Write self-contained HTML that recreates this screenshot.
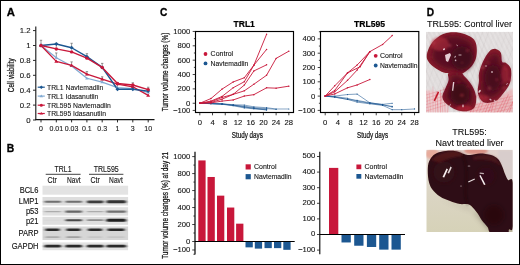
<!DOCTYPE html><html><head><meta charset="utf-8"><style>html,body{margin:0;padding:0;background:#fff;width:520px;height:265px;overflow:hidden}svg{display:block;will-change:transform;font-family:"Liberation Sans",sans-serif}</style></head><body>
<svg width="520" height="265" viewBox="0 0 520 265">
<defs><filter id="bl1" x="-20%" y="-20%" width="140%" height="140%"><feGaussianBlur stdDeviation="0.6"/></filter><filter id="bb" x="-30%" y="-100%" width="160%" height="300%"><feGaussianBlur stdDeviation="1.4 0.55"/></filter><filter id="bl2" x="-20%" y="-20%" width="140%" height="140%"><feGaussianBlur stdDeviation="1.2"/></filter><filter id="bl3" x="-30%" y="-30%" width="160%" height="160%"><feGaussianBlur stdDeviation="2.5"/></filter><clipPath id="ph1"><rect x="426" y="31.7" width="87" height="80.8"/></clipPath><clipPath id="ph2"><rect x="426.3" y="149.8" width="86.4" height="82.3"/></clipPath></defs>
<rect x="0" y="0" width="520" height="265" fill="#fff"/>
<text x="6.70" y="15.50" font-size="11.3" text-anchor="start" font-weight="bold" fill="#000" stroke="#000" stroke-width="0.3">A</text>
<line x1="35.80" y1="26.50" x2="35.80" y2="120.10" stroke="#141414" stroke-width="1.1" />
<line x1="33.00" y1="120.00" x2="35.80" y2="120.00" stroke="#141414" stroke-width="0.9" />
<text transform="translate(30.60,122.55) scale(1.1,1)" font-size="7.1" text-anchor="end" font-weight="normal" fill="#141414"  stroke="#141414" stroke-width="0.1">0</text>
<line x1="33.00" y1="105.10" x2="35.80" y2="105.10" stroke="#141414" stroke-width="0.9" />
<text transform="translate(30.60,107.65) scale(1.1,1)" font-size="7.1" text-anchor="end" font-weight="normal" fill="#141414"  stroke="#141414" stroke-width="0.1">0.2</text>
<line x1="33.00" y1="90.20" x2="35.80" y2="90.20" stroke="#141414" stroke-width="0.9" />
<text transform="translate(30.60,92.75) scale(1.1,1)" font-size="7.1" text-anchor="end" font-weight="normal" fill="#141414"  stroke="#141414" stroke-width="0.1">0.4</text>
<line x1="33.00" y1="75.30" x2="35.80" y2="75.30" stroke="#141414" stroke-width="0.9" />
<text transform="translate(30.60,77.85) scale(1.1,1)" font-size="7.1" text-anchor="end" font-weight="normal" fill="#141414"  stroke="#141414" stroke-width="0.1">0.6</text>
<line x1="33.00" y1="60.40" x2="35.80" y2="60.40" stroke="#141414" stroke-width="0.9" />
<text transform="translate(30.60,62.95) scale(1.1,1)" font-size="7.1" text-anchor="end" font-weight="normal" fill="#141414"  stroke="#141414" stroke-width="0.1">0.8</text>
<line x1="33.00" y1="45.50" x2="35.80" y2="45.50" stroke="#141414" stroke-width="0.9" />
<text transform="translate(30.60,48.05) scale(1.1,1)" font-size="7.1" text-anchor="end" font-weight="normal" fill="#141414"  stroke="#141414" stroke-width="0.1">1</text>
<line x1="33.00" y1="30.60" x2="35.80" y2="30.60" stroke="#141414" stroke-width="0.9" />
<text transform="translate(30.60,33.15) scale(1.1,1)" font-size="7.1" text-anchor="end" font-weight="normal" fill="#141414"  stroke="#141414" stroke-width="0.1">1.2</text>
<line x1="35.30" y1="119.60" x2="154.50" y2="119.60" stroke="#141414" stroke-width="1.1" />
<line x1="41.00" y1="119.60" x2="41.00" y2="122.40" stroke="#141414" stroke-width="0.9" />
<line x1="56.30" y1="119.60" x2="56.30" y2="122.40" stroke="#141414" stroke-width="0.9" />
<line x1="71.60" y1="119.60" x2="71.60" y2="122.40" stroke="#141414" stroke-width="0.9" />
<line x1="86.90" y1="119.60" x2="86.90" y2="122.40" stroke="#141414" stroke-width="0.9" />
<line x1="102.20" y1="119.60" x2="102.20" y2="122.40" stroke="#141414" stroke-width="0.9" />
<line x1="117.50" y1="119.60" x2="117.50" y2="122.40" stroke="#141414" stroke-width="0.9" />
<line x1="132.80" y1="119.60" x2="132.80" y2="122.40" stroke="#141414" stroke-width="0.9" />
<line x1="148.20" y1="119.60" x2="148.20" y2="122.40" stroke="#141414" stroke-width="0.9" />
<text x="41.00" y="131.20" font-size="7" text-anchor="middle" font-weight="normal" fill="#141414"  stroke="#141414" stroke-width="0.1">0</text>
<text x="56.30" y="131.20" font-size="7" text-anchor="middle" font-weight="normal" fill="#141414"  stroke="#141414" stroke-width="0.1">0.01</text>
<text x="71.60" y="131.20" font-size="7" text-anchor="middle" font-weight="normal" fill="#141414"  stroke="#141414" stroke-width="0.1">0.03</text>
<text x="86.90" y="131.20" font-size="7" text-anchor="middle" font-weight="normal" fill="#141414"  stroke="#141414" stroke-width="0.1">0.1</text>
<text x="102.20" y="131.20" font-size="7" text-anchor="middle" font-weight="normal" fill="#141414"  stroke="#141414" stroke-width="0.1">0.3</text>
<text x="117.50" y="131.20" font-size="7" text-anchor="middle" font-weight="normal" fill="#141414"  stroke="#141414" stroke-width="0.1">1</text>
<text x="132.80" y="131.20" font-size="7" text-anchor="middle" font-weight="normal" fill="#141414"  stroke="#141414" stroke-width="0.1">3</text>
<text x="148.20" y="131.20" font-size="7" text-anchor="middle" font-weight="normal" fill="#141414"  stroke="#141414" stroke-width="0.1">10</text>
<g transform="translate(14.40,75.20) rotate(-90) scale(0.715,1)"><text x="0" y="0" font-size="9" text-anchor="middle" fill="#141414" stroke="#141414" stroke-width="0.25">Cell viability</text></g>
<line x1="41.00" y1="40.28" x2="41.00" y2="44.28" stroke="#555" stroke-width="0.6" />
<line x1="39.80" y1="40.28" x2="42.20" y2="40.28" stroke="#555" stroke-width="0.6" />
<line x1="56.30" y1="43.27" x2="56.30" y2="47.27" stroke="#555" stroke-width="0.6" />
<line x1="55.10" y1="43.27" x2="57.50" y2="43.27" stroke="#555" stroke-width="0.6" />
<line x1="71.60" y1="43.27" x2="71.60" y2="47.27" stroke="#555" stroke-width="0.6" />
<line x1="70.40" y1="43.27" x2="72.80" y2="43.27" stroke="#555" stroke-width="0.6" />
<line x1="86.90" y1="53.69" x2="86.90" y2="57.69" stroke="#555" stroke-width="0.6" />
<line x1="85.70" y1="53.69" x2="88.10" y2="53.69" stroke="#555" stroke-width="0.6" />
<line x1="102.20" y1="63.38" x2="102.20" y2="67.38" stroke="#555" stroke-width="0.6" />
<line x1="101.00" y1="63.38" x2="103.40" y2="63.38" stroke="#555" stroke-width="0.6" />
<line x1="132.80" y1="82.75" x2="132.80" y2="86.75" stroke="#555" stroke-width="0.6" />
<line x1="131.60" y1="82.75" x2="134.00" y2="82.75" stroke="#555" stroke-width="0.6" />
<line x1="56.30" y1="52.95" x2="56.30" y2="56.95" stroke="#555" stroke-width="0.6" />
<line x1="55.10" y1="52.95" x2="57.50" y2="52.95" stroke="#555" stroke-width="0.6" />
<line x1="71.60" y1="61.89" x2="71.60" y2="65.89" stroke="#555" stroke-width="0.6" />
<line x1="70.40" y1="61.89" x2="72.80" y2="61.89" stroke="#555" stroke-width="0.6" />
<line x1="86.90" y1="71.57" x2="86.90" y2="75.57" stroke="#555" stroke-width="0.6" />
<line x1="85.70" y1="71.57" x2="88.10" y2="71.57" stroke="#555" stroke-width="0.6" />
<line x1="102.20" y1="76.79" x2="102.20" y2="80.79" stroke="#555" stroke-width="0.6" />
<line x1="101.00" y1="76.79" x2="103.40" y2="76.79" stroke="#555" stroke-width="0.6" />
<line x1="117.50" y1="82.75" x2="117.50" y2="86.75" stroke="#555" stroke-width="0.6" />
<line x1="116.30" y1="82.75" x2="118.70" y2="82.75" stroke="#555" stroke-width="0.6" />
<line x1="148.20" y1="87.22" x2="148.20" y2="91.22" stroke="#555" stroke-width="0.6" />
<line x1="147.00" y1="87.22" x2="149.40" y2="87.22" stroke="#555" stroke-width="0.6" />
<polyline points="41.00,45.50 56.30,57.72 71.60,65.99 86.90,78.28 102.20,82.08 117.50,87.67 132.80,88.71 148.20,92.44" fill="none" stroke="#80a9d2" stroke-width="1.2" stroke-linejoin="round" />
<polyline points="41.00,45.50 56.30,61.37 71.60,65.39 86.90,74.18 102.20,79.17 117.50,84.02 132.80,86.77 148.20,95.41" fill="none" stroke="#c8173a" stroke-width="1.3" stroke-linejoin="round" />
<polyline points="41.00,45.50 56.30,44.01 71.60,47.73 86.90,56.68 102.20,67.40 117.50,89.23 132.80,89.23 148.20,91.09" fill="none" stroke="#1c5791" stroke-width="1.4" stroke-linejoin="round" />
<polyline points="41.00,45.50 56.30,48.93 71.60,51.91 86.90,58.17 102.20,67.40 117.50,83.57 132.80,84.98 148.20,89.60" fill="none" stroke="#c8173a" stroke-width="1.4" stroke-linejoin="round" />
<polygon points="41.00,43.90 42.76,46.62 39.24,46.62" fill="#80a9d2"/>
<polygon points="56.30,56.12 58.06,58.84 54.54,58.84" fill="#80a9d2"/>
<polygon points="71.60,64.39 73.36,67.11 69.84,67.11" fill="#80a9d2"/>
<polygon points="86.90,76.68 88.66,79.40 85.14,79.40" fill="#80a9d2"/>
<polygon points="102.20,80.48 103.96,83.20 100.44,83.20" fill="#80a9d2"/>
<polygon points="117.50,86.07 119.26,88.79 115.74,88.79" fill="#80a9d2"/>
<polygon points="132.80,87.11 134.56,89.83 131.04,89.83" fill="#80a9d2"/>
<polygon points="148.20,90.84 149.96,93.56 146.44,93.56" fill="#80a9d2"/>
<polygon points="41.00,43.70 42.98,46.76 39.02,46.76" fill="#c8173a"/>
<polygon points="56.30,59.57 58.28,62.63 54.32,62.63" fill="#c8173a"/>
<polygon points="71.60,63.59 73.58,66.65 69.62,66.65" fill="#c8173a"/>
<polygon points="86.90,72.38 88.88,75.44 84.92,75.44" fill="#c8173a"/>
<polygon points="102.20,77.37 104.18,80.43 100.22,80.43" fill="#c8173a"/>
<polygon points="117.50,82.22 119.48,85.28 115.52,85.28" fill="#c8173a"/>
<polygon points="132.80,84.97 134.78,88.03 130.82,88.03" fill="#c8173a"/>
<polygon points="148.20,93.61 150.18,96.67 146.22,96.67" fill="#c8173a"/>
<polygon points="41.00,43.50 43.00,45.50 41.00,47.50 39.00,45.50" fill="#1c5791"/>
<polygon points="56.30,42.01 58.30,44.01 56.30,46.01 54.30,44.01" fill="#1c5791"/>
<polygon points="71.60,45.73 73.60,47.73 71.60,49.73 69.60,47.73" fill="#1c5791"/>
<polygon points="86.90,54.68 88.90,56.68 86.90,58.68 84.90,56.68" fill="#1c5791"/>
<polygon points="102.20,65.40 104.20,67.40 102.20,69.40 100.20,67.40" fill="#1c5791"/>
<polygon points="117.50,87.23 119.50,89.23 117.50,91.23 115.50,89.23" fill="#1c5791"/>
<polygon points="132.80,87.23 134.80,89.23 132.80,91.23 130.80,89.23" fill="#1c5791"/>
<polygon points="148.20,89.09 150.20,91.09 148.20,93.09 146.20,91.09" fill="#1c5791"/>
<circle cx="41.00" cy="45.50" r="1.7" fill="#c8173a"/>
<circle cx="56.30" cy="48.93" r="1.7" fill="#c8173a"/>
<circle cx="71.60" cy="51.91" r="1.7" fill="#c8173a"/>
<circle cx="86.90" cy="58.17" r="1.7" fill="#c8173a"/>
<circle cx="102.20" cy="67.40" r="1.7" fill="#c8173a"/>
<circle cx="117.50" cy="83.57" r="1.7" fill="#c8173a"/>
<circle cx="132.80" cy="84.98" r="1.7" fill="#c8173a"/>
<circle cx="148.20" cy="89.60" r="1.7" fill="#c8173a"/>
<line x1="37.70" y1="87.20" x2="44.80" y2="87.20" stroke="#1c5791" stroke-width="1.2" />
<polygon points="41.30,85.40 43.10,87.20 41.30,89.00 39.50,87.20" fill="#1c5791"/>
<text transform="translate(47.00,89.90) scale(0.895,1)" font-size="7.6" text-anchor="start" font-weight="normal" fill="#141414"  stroke="#141414" stroke-width="0.1">TRL1 Navtemadlin</text>
<line x1="37.70" y1="96.10" x2="44.80" y2="96.10" stroke="#80a9d2" stroke-width="1.2" />
<polygon points="41.30,94.50 43.06,97.22 39.54,97.22" fill="#80a9d2"/>
<text transform="translate(47.00,98.80) scale(0.895,1)" font-size="7.6" text-anchor="start" font-weight="normal" fill="#141414"  stroke="#141414" stroke-width="0.1">TRL1 Idasanutlin</text>
<line x1="37.70" y1="105.20" x2="44.80" y2="105.20" stroke="#c8173a" stroke-width="1.2" />
<circle cx="41.30" cy="105.20" r="1.5" fill="#c8173a"/>
<text transform="translate(47.00,107.90) scale(0.895,1)" font-size="7.6" text-anchor="start" font-weight="normal" fill="#141414"  stroke="#141414" stroke-width="0.1">TRL595 Navtemadlin</text>
<line x1="37.70" y1="113.50" x2="44.80" y2="113.50" stroke="#c8173a" stroke-width="1.2" />
<polygon points="41.30,111.90 43.06,114.62 39.54,114.62" fill="#c8173a"/>
<text transform="translate(47.00,116.20) scale(0.895,1)" font-size="7.6" text-anchor="start" font-weight="normal" fill="#141414"  stroke="#141414" stroke-width="0.1">TRL595 Idasanutlin</text>
<text transform="translate(6.80,151.60) scale(0.92,1)" font-size="11.3" text-anchor="start" font-weight="bold" fill="#000" stroke="#000" stroke-width="0.3">B</text>
<text transform="translate(63.10,171.70) scale(0.85,1)" font-size="8.2" text-anchor="middle" font-weight="normal" fill="#141414" stroke="#1a1a1a" stroke-width="0.12">TRL1</text>
<text transform="translate(106.20,171.70) scale(0.86,1)" font-size="8.2" text-anchor="middle" font-weight="normal" fill="#141414" stroke="#1a1a1a" stroke-width="0.12">TRL595</text>
<line x1="45.70" y1="174.30" x2="80.60" y2="174.30" stroke="#141414" stroke-width="0.8" />
<line x1="89.00" y1="174.30" x2="123.40" y2="174.30" stroke="#141414" stroke-width="0.8" />
<text transform="translate(52.10,182.80) scale(0.84,1)" font-size="8.3" text-anchor="middle" font-weight="normal" fill="#141414" stroke="#1a1a1a" stroke-width="0.12">Ctr</text>
<text transform="translate(73.80,182.80) scale(0.8,1)" font-size="8.3" text-anchor="middle" font-weight="normal" fill="#141414" stroke="#1a1a1a" stroke-width="0.12">Navt</text>
<text transform="translate(95.10,182.80) scale(0.84,1)" font-size="8.3" text-anchor="middle" font-weight="normal" fill="#141414" stroke="#1a1a1a" stroke-width="0.12">Ctr</text>
<text transform="translate(115.90,182.80) scale(0.8,1)" font-size="8.3" text-anchor="middle" font-weight="normal" fill="#141414" stroke="#1a1a1a" stroke-width="0.12">Navt</text>
<rect x="42.5" y="185.7" width="85.6" height="9.00" fill="#e3e3e3"/>
<text transform="translate(38.50,192.95) scale(0.92,1)" font-size="8.2" text-anchor="end" font-weight="normal" fill="#141414" stroke="#1a1a1a" stroke-width="0.15">BCL6</text>
<rect x="42.5" y="197.0" width="85.6" height="8.50" fill="#dedede"/>
<text transform="translate(38.50,204.00) scale(0.92,1)" font-size="8.2" text-anchor="end" font-weight="normal" fill="#141414" stroke="#1a1a1a" stroke-width="0.15">LMP1</text>
<rect x="42.5" y="207.2" width="85.6" height="8.40" fill="#e0e0e0"/>
<text transform="translate(38.50,214.15) scale(0.92,1)" font-size="8.2" text-anchor="end" font-weight="normal" fill="#141414" stroke="#1a1a1a" stroke-width="0.15">p53</text>
<rect x="42.5" y="216.8" width="85.6" height="8.00" fill="#dedede"/>
<text transform="translate(38.50,223.55) scale(0.92,1)" font-size="8.2" text-anchor="end" font-weight="normal" fill="#141414" stroke="#1a1a1a" stroke-width="0.15">p21</text>
<rect x="42.5" y="226.5" width="85.6" height="13.50" fill="#d6d6d6"/>
<text transform="translate(38.50,236.00) scale(0.92,1)" font-size="8.2" text-anchor="end" font-weight="normal" fill="#141414" stroke="#1a1a1a" stroke-width="0.15">PARP</text>
<rect x="42.5" y="242.4" width="85.6" height="7.80" fill="#e2e2e2"/>
<text transform="translate(38.50,249.05) scale(0.92,1)" font-size="8.2" text-anchor="end" font-weight="normal" fill="#141414" stroke="#1a1a1a" stroke-width="0.15">GAPDH</text>
<rect x="44.30" y="200.80" width="16.90" height="2.00" rx="1.00" fill="#151515" opacity="0.55" filter="url(#bb)"/>
<rect x="65.30" y="200.80" width="16.90" height="2.00" rx="1.00" fill="#151515" opacity="0.55" filter="url(#bb)"/>
<rect x="86.80" y="200.40" width="16.90" height="2.80" rx="1.40" fill="#151515" opacity="0.8" filter="url(#bb)"/>
<rect x="106.30" y="200.30" width="19.90" height="3.00" rx="1.50" fill="#151515" opacity="0.85" filter="url(#bb)"/>
<rect x="44.30" y="210.90" width="16.90" height="1.40" rx="0.70" fill="#151515" opacity="0.25" filter="url(#bb)"/>
<rect x="65.30" y="210.40" width="16.90" height="2.40" rx="1.20" fill="#151515" opacity="0.6" filter="url(#bb)"/>
<rect x="86.80" y="210.90" width="16.90" height="1.40" rx="0.70" fill="#151515" opacity="0.25" filter="url(#bb)"/>
<rect x="106.30" y="210.50" width="19.90" height="2.20" rx="1.10" fill="#151515" opacity="0.55" filter="url(#bb)"/>
<rect x="44.30" y="219.70" width="16.90" height="1.00" rx="0.50" fill="#151515" opacity="0.03" filter="url(#bb)"/>
<rect x="65.30" y="219.20" width="16.90" height="2.00" rx="1.00" fill="#151515" opacity="0.75" filter="url(#bb)"/>
<rect x="86.80" y="219.30" width="16.90" height="1.80" rx="0.90" fill="#151515" opacity="0.4" filter="url(#bb)"/>
<rect x="106.30" y="218.70" width="19.90" height="3.00" rx="1.50" fill="#151515" opacity="0.95" filter="url(#bb)"/>
<rect x="45.30" y="228.60" width="14.40" height="2.40" rx="1.20" fill="#151515" opacity="0.9" filter="url(#bb)"/>
<rect x="66.30" y="228.60" width="14.40" height="2.40" rx="1.20" fill="#151515" opacity="0.9" filter="url(#bb)"/>
<rect x="87.80" y="228.60" width="14.40" height="2.40" rx="1.20" fill="#151515" opacity="0.9" filter="url(#bb)"/>
<rect x="107.30" y="228.60" width="17.40" height="2.40" rx="1.20" fill="#151515" opacity="0.9" filter="url(#bb)"/>
<rect x="45.30" y="236.30" width="14.40" height="1.80" rx="0.90" fill="#151515" opacity="0.22" filter="url(#bb)"/>
<rect x="66.30" y="236.30" width="14.40" height="1.80" rx="0.90" fill="#151515" opacity="0.28" filter="url(#bb)"/>
<rect x="87.80" y="236.30" width="14.40" height="1.80" rx="0.90" fill="#151515" opacity="0.08" filter="url(#bb)"/>
<rect x="107.30" y="236.30" width="17.40" height="1.80" rx="0.90" fill="#151515" opacity="0.08" filter="url(#bb)"/>
<rect x="44.30" y="244.80" width="16.90" height="2.80" rx="1.40" fill="#151515" opacity="0.9" filter="url(#bb)"/>
<rect x="65.30" y="244.80" width="16.90" height="2.80" rx="1.40" fill="#151515" opacity="0.9" filter="url(#bb)"/>
<rect x="86.80" y="244.80" width="16.90" height="2.80" rx="1.40" fill="#151515" opacity="0.9" filter="url(#bb)"/>
<rect x="106.30" y="244.80" width="19.90" height="2.80" rx="1.40" fill="#151515" opacity="0.9" filter="url(#bb)"/>
<text transform="translate(160.10,15.50) scale(0.9,1)" font-size="11.3" text-anchor="start" font-weight="bold" fill="#000" stroke="#000" stroke-width="0.3">C</text>
<rect x="195.5" y="31.5" width="98.00" height="81.00" fill="none" stroke="#000" stroke-width="1.15"/>
<line x1="192.70" y1="110.43" x2="195.50" y2="110.43" stroke="#141414" stroke-width="0.8" />
<line x1="192.70" y1="103.25" x2="195.50" y2="103.25" stroke="#141414" stroke-width="0.8" />
<line x1="193.90" y1="96.07" x2="195.50" y2="96.07" stroke="#141414" stroke-width="0.8" />
<line x1="192.70" y1="88.89" x2="195.50" y2="88.89" stroke="#141414" stroke-width="0.8" />
<line x1="193.90" y1="81.71" x2="195.50" y2="81.71" stroke="#141414" stroke-width="0.8" />
<line x1="192.70" y1="74.53" x2="195.50" y2="74.53" stroke="#141414" stroke-width="0.8" />
<line x1="193.90" y1="67.35" x2="195.50" y2="67.35" stroke="#141414" stroke-width="0.8" />
<line x1="192.70" y1="60.17" x2="195.50" y2="60.17" stroke="#141414" stroke-width="0.8" />
<line x1="193.90" y1="52.99" x2="195.50" y2="52.99" stroke="#141414" stroke-width="0.8" />
<line x1="192.70" y1="45.81" x2="195.50" y2="45.81" stroke="#141414" stroke-width="0.8" />
<line x1="193.90" y1="38.63" x2="195.50" y2="38.63" stroke="#141414" stroke-width="0.8" />
<line x1="192.70" y1="31.45" x2="195.50" y2="31.45" stroke="#141414" stroke-width="0.8" />
<text transform="translate(190.20,34.00) scale(1.08,1)" font-size="7.1" text-anchor="end" font-weight="normal" fill="#141414"  stroke="#141414" stroke-width="0.1">1000</text>
<text transform="translate(190.20,48.36) scale(1.08,1)" font-size="7.1" text-anchor="end" font-weight="normal" fill="#141414"  stroke="#141414" stroke-width="0.1">800</text>
<text transform="translate(190.20,62.72) scale(1.08,1)" font-size="7.1" text-anchor="end" font-weight="normal" fill="#141414"  stroke="#141414" stroke-width="0.1">600</text>
<text transform="translate(190.20,77.08) scale(1.08,1)" font-size="7.1" text-anchor="end" font-weight="normal" fill="#141414"  stroke="#141414" stroke-width="0.1">400</text>
<text transform="translate(190.20,91.44) scale(1.08,1)" font-size="7.1" text-anchor="end" font-weight="normal" fill="#141414"  stroke="#141414" stroke-width="0.1">200</text>
<text transform="translate(190.20,105.80) scale(1.08,1)" font-size="7.1" text-anchor="end" font-weight="normal" fill="#141414"  stroke="#141414" stroke-width="0.1">0</text>
<text transform="translate(190.20,112.98) scale(1.08,1)" font-size="7.1" text-anchor="end" font-weight="normal" fill="#141414"  stroke="#141414" stroke-width="0.1">−100</text>
<line x1="199.80" y1="112.50" x2="199.80" y2="115.30" stroke="#141414" stroke-width="0.8" />
<text transform="translate(199.80,125.00) scale(1.08,1)" font-size="7.1" text-anchor="middle" font-weight="normal" fill="#141414"  stroke="#141414" stroke-width="0.1">0</text>
<line x1="212.52" y1="112.50" x2="212.52" y2="115.30" stroke="#141414" stroke-width="0.8" />
<text transform="translate(212.52,125.00) scale(1.08,1)" font-size="7.1" text-anchor="middle" font-weight="normal" fill="#141414"  stroke="#141414" stroke-width="0.1">4</text>
<line x1="225.24" y1="112.50" x2="225.24" y2="115.30" stroke="#141414" stroke-width="0.8" />
<text transform="translate(225.24,125.00) scale(1.08,1)" font-size="7.1" text-anchor="middle" font-weight="normal" fill="#141414"  stroke="#141414" stroke-width="0.1">8</text>
<line x1="237.96" y1="112.50" x2="237.96" y2="115.30" stroke="#141414" stroke-width="0.8" />
<text transform="translate(237.96,125.00) scale(1.08,1)" font-size="7.1" text-anchor="middle" font-weight="normal" fill="#141414"  stroke="#141414" stroke-width="0.1">12</text>
<line x1="250.68" y1="112.50" x2="250.68" y2="115.30" stroke="#141414" stroke-width="0.8" />
<text transform="translate(250.68,125.00) scale(1.08,1)" font-size="7.1" text-anchor="middle" font-weight="normal" fill="#141414"  stroke="#141414" stroke-width="0.1">16</text>
<line x1="263.40" y1="112.50" x2="263.40" y2="115.30" stroke="#141414" stroke-width="0.8" />
<text transform="translate(263.40,125.00) scale(1.08,1)" font-size="7.1" text-anchor="middle" font-weight="normal" fill="#141414"  stroke="#141414" stroke-width="0.1">20</text>
<line x1="276.12" y1="112.50" x2="276.12" y2="115.30" stroke="#141414" stroke-width="0.8" />
<text transform="translate(276.12,125.00) scale(1.08,1)" font-size="7.1" text-anchor="middle" font-weight="normal" fill="#141414"  stroke="#141414" stroke-width="0.1">24</text>
<line x1="288.84" y1="112.50" x2="288.84" y2="115.30" stroke="#141414" stroke-width="0.8" />
<text transform="translate(288.84,125.00) scale(1.08,1)" font-size="7.1" text-anchor="middle" font-weight="normal" fill="#141414"  stroke="#141414" stroke-width="0.1">28</text>
<g transform="translate(247.3,137.7) scale(0.7,1)"><text x="0" y="0" font-size="9" text-anchor="middle" fill="#141414" stroke="#141414" stroke-width="0.25">Study days</text></g>
<text x="244.20" y="27.20" font-size="8.5" text-anchor="middle" font-weight="bold" fill="#000" stroke="#000" stroke-width="0.2">TRL1</text>
<g transform="translate(168.20,72.00) rotate(-90) scale(0.715,1)"><text x="0" y="0" font-size="9" text-anchor="middle" fill="#141414" stroke="#141414" stroke-width="0.25">Tumor volume changes (%)</text></g>
<circle cx="205.50" cy="54.00" r="1.9" fill="#c8173a"/>
<text x="210.60" y="56.10" font-size="7" text-anchor="start" font-weight="normal" fill="#141414"  stroke="#141414" stroke-width="0.1">Control</text>
<circle cx="205.50" cy="63.40" r="1.9" fill="#1c5791"/>
<text transform="translate(210.60,65.50) scale(0.97,1)" font-size="7" text-anchor="start" font-weight="normal" fill="#141414"  stroke="#141414" stroke-width="0.1">Navtemadlin</text>
<polyline points="199.80,103.25 210.93,103.61 222.06,103.82 233.19,104.69 244.32,105.05 253.86,106.84 266.58,107.70 276.12,108.99 288.84,108.99" fill="none" stroke="#1c5791" stroke-width="0.7" stroke-linejoin="round" opacity="0.75"/>
<circle cx="199.80" cy="103.25" r="0.6" fill="#1c5791"/>
<circle cx="210.93" cy="103.61" r="0.6" fill="#1c5791"/>
<circle cx="222.06" cy="103.82" r="0.6" fill="#1c5791"/>
<circle cx="233.19" cy="104.69" r="0.6" fill="#1c5791"/>
<circle cx="244.32" cy="105.05" r="0.6" fill="#1c5791"/>
<circle cx="253.86" cy="106.84" r="0.6" fill="#1c5791"/>
<circle cx="266.58" cy="107.70" r="0.6" fill="#1c5791"/>
<circle cx="276.12" cy="108.99" r="0.6" fill="#1c5791"/>
<circle cx="288.84" cy="108.99" r="0.6" fill="#1c5791"/>
<polyline points="199.80,103.25 210.93,103.61 222.06,103.97 233.19,105.26 244.32,106.12 253.86,107.70 266.58,108.64 276.12,109.35" fill="none" stroke="#1c5791" stroke-width="0.7" stroke-linejoin="round" opacity="0.75"/>
<circle cx="199.80" cy="103.25" r="0.6" fill="#1c5791"/>
<circle cx="210.93" cy="103.61" r="0.6" fill="#1c5791"/>
<circle cx="222.06" cy="103.97" r="0.6" fill="#1c5791"/>
<circle cx="233.19" cy="105.26" r="0.6" fill="#1c5791"/>
<circle cx="244.32" cy="106.12" r="0.6" fill="#1c5791"/>
<circle cx="253.86" cy="107.70" r="0.6" fill="#1c5791"/>
<circle cx="266.58" cy="108.64" r="0.6" fill="#1c5791"/>
<circle cx="276.12" cy="109.35" r="0.6" fill="#1c5791"/>
<polyline points="199.80,103.25 210.93,103.54 222.06,104.11 233.19,105.40 244.32,107.20 253.86,108.28 266.58,109.35" fill="none" stroke="#1c5791" stroke-width="0.7" stroke-linejoin="round" opacity="0.75"/>
<circle cx="199.80" cy="103.25" r="0.6" fill="#1c5791"/>
<circle cx="210.93" cy="103.54" r="0.6" fill="#1c5791"/>
<circle cx="222.06" cy="104.11" r="0.6" fill="#1c5791"/>
<circle cx="233.19" cy="105.40" r="0.6" fill="#1c5791"/>
<circle cx="244.32" cy="107.20" r="0.6" fill="#1c5791"/>
<circle cx="253.86" cy="108.28" r="0.6" fill="#1c5791"/>
<circle cx="266.58" cy="109.35" r="0.6" fill="#1c5791"/>
<polyline points="199.80,103.25 210.93,103.68 222.06,104.26 233.19,105.76 244.32,107.92 253.86,108.85 266.58,109.71" fill="none" stroke="#1c5791" stroke-width="0.7" stroke-linejoin="round" opacity="0.75"/>
<circle cx="199.80" cy="103.25" r="0.6" fill="#1c5791"/>
<circle cx="210.93" cy="103.68" r="0.6" fill="#1c5791"/>
<circle cx="222.06" cy="104.26" r="0.6" fill="#1c5791"/>
<circle cx="233.19" cy="105.76" r="0.6" fill="#1c5791"/>
<circle cx="244.32" cy="107.92" r="0.6" fill="#1c5791"/>
<circle cx="253.86" cy="108.85" r="0.6" fill="#1c5791"/>
<circle cx="266.58" cy="109.71" r="0.6" fill="#1c5791"/>
<polyline points="199.80,103.25 210.93,103.47 222.06,103.97 233.19,105.05 244.32,106.84 253.86,108.42 266.58,110.07" fill="none" stroke="#1c5791" stroke-width="0.7" stroke-linejoin="round" opacity="0.75"/>
<circle cx="199.80" cy="103.25" r="0.6" fill="#1c5791"/>
<circle cx="210.93" cy="103.47" r="0.6" fill="#1c5791"/>
<circle cx="222.06" cy="103.97" r="0.6" fill="#1c5791"/>
<circle cx="233.19" cy="105.05" r="0.6" fill="#1c5791"/>
<circle cx="244.32" cy="106.84" r="0.6" fill="#1c5791"/>
<circle cx="253.86" cy="108.42" r="0.6" fill="#1c5791"/>
<circle cx="266.58" cy="110.07" r="0.6" fill="#1c5791"/>
<polyline points="199.80,103.25 210.93,98.58 222.06,89.11 233.19,81.93 244.32,77.76 253.86,65.20 266.58,34.32" fill="none" stroke="#c8173a" stroke-width="0.9" stroke-linejoin="round" />
<circle cx="199.80" cy="103.25" r="0.75" fill="#c8173a"/>
<circle cx="210.93" cy="98.58" r="0.75" fill="#c8173a"/>
<circle cx="222.06" cy="89.11" r="0.75" fill="#c8173a"/>
<circle cx="233.19" cy="81.93" r="0.75" fill="#c8173a"/>
<circle cx="244.32" cy="77.76" r="0.75" fill="#c8173a"/>
<circle cx="253.86" cy="65.20" r="0.75" fill="#c8173a"/>
<circle cx="266.58" cy="34.32" r="0.75" fill="#c8173a"/>
<polyline points="199.80,103.25 210.93,101.10 222.06,96.43 233.19,87.74 244.32,81.71 253.86,65.20 266.58,49.40" fill="none" stroke="#c8173a" stroke-width="0.9" stroke-linejoin="round" />
<circle cx="199.80" cy="103.25" r="0.75" fill="#c8173a"/>
<circle cx="210.93" cy="101.10" r="0.75" fill="#c8173a"/>
<circle cx="222.06" cy="96.43" r="0.75" fill="#c8173a"/>
<circle cx="233.19" cy="87.74" r="0.75" fill="#c8173a"/>
<circle cx="244.32" cy="81.71" r="0.75" fill="#c8173a"/>
<circle cx="253.86" cy="65.20" r="0.75" fill="#c8173a"/>
<circle cx="266.58" cy="49.40" r="0.75" fill="#c8173a"/>
<polyline points="199.80,103.25 210.93,101.81 222.06,97.43 233.19,94.35 244.32,85.08 253.86,70.94 266.58,64.84" fill="none" stroke="#c8173a" stroke-width="0.9" stroke-linejoin="round" />
<circle cx="199.80" cy="103.25" r="0.75" fill="#c8173a"/>
<circle cx="210.93" cy="101.81" r="0.75" fill="#c8173a"/>
<circle cx="222.06" cy="97.43" r="0.75" fill="#c8173a"/>
<circle cx="233.19" cy="94.35" r="0.75" fill="#c8173a"/>
<circle cx="244.32" cy="85.08" r="0.75" fill="#c8173a"/>
<circle cx="253.86" cy="70.94" r="0.75" fill="#c8173a"/>
<circle cx="266.58" cy="64.84" r="0.75" fill="#c8173a"/>
<polyline points="199.80,103.25 210.93,102.53 222.06,99.16 233.19,94.35 244.32,90.83 253.86,84.22 266.58,75.25 276.12,58.38 288.84,51.20" fill="none" stroke="#c8173a" stroke-width="0.9" stroke-linejoin="round" />
<circle cx="199.80" cy="103.25" r="0.75" fill="#c8173a"/>
<circle cx="210.93" cy="102.53" r="0.75" fill="#c8173a"/>
<circle cx="222.06" cy="99.16" r="0.75" fill="#c8173a"/>
<circle cx="233.19" cy="94.35" r="0.75" fill="#c8173a"/>
<circle cx="244.32" cy="90.83" r="0.75" fill="#c8173a"/>
<circle cx="253.86" cy="84.22" r="0.75" fill="#c8173a"/>
<circle cx="266.58" cy="75.25" r="0.75" fill="#c8173a"/>
<circle cx="276.12" cy="58.38" r="0.75" fill="#c8173a"/>
<circle cx="288.84" cy="51.20" r="0.75" fill="#c8173a"/>
<polyline points="199.80,103.25 210.93,102.89 222.06,101.10 233.19,99.95 244.32,96.07 253.86,94.63 266.58,87.81 276.12,88.17 288.84,86.16" fill="none" stroke="#c8173a" stroke-width="0.9" stroke-linejoin="round" />
<circle cx="199.80" cy="103.25" r="0.75" fill="#c8173a"/>
<circle cx="210.93" cy="102.89" r="0.75" fill="#c8173a"/>
<circle cx="222.06" cy="101.10" r="0.75" fill="#c8173a"/>
<circle cx="233.19" cy="99.95" r="0.75" fill="#c8173a"/>
<circle cx="244.32" cy="96.07" r="0.75" fill="#c8173a"/>
<circle cx="253.86" cy="94.63" r="0.75" fill="#c8173a"/>
<circle cx="266.58" cy="87.81" r="0.75" fill="#c8173a"/>
<circle cx="276.12" cy="88.17" r="0.75" fill="#c8173a"/>
<circle cx="288.84" cy="86.16" r="0.75" fill="#c8173a"/>
<rect x="320.5" y="31.5" width="98.30" height="81.00" fill="none" stroke="#000" stroke-width="1.15"/>
<line x1="317.70" y1="110.40" x2="320.50" y2="110.40" stroke="#141414" stroke-width="0.8" />
<line x1="318.90" y1="103.25" x2="320.50" y2="103.25" stroke="#141414" stroke-width="0.8" />
<line x1="317.70" y1="96.10" x2="320.50" y2="96.10" stroke="#141414" stroke-width="0.8" />
<line x1="318.90" y1="88.95" x2="320.50" y2="88.95" stroke="#141414" stroke-width="0.8" />
<line x1="317.70" y1="81.80" x2="320.50" y2="81.80" stroke="#141414" stroke-width="0.8" />
<line x1="318.90" y1="74.65" x2="320.50" y2="74.65" stroke="#141414" stroke-width="0.8" />
<line x1="317.70" y1="67.50" x2="320.50" y2="67.50" stroke="#141414" stroke-width="0.8" />
<line x1="318.90" y1="60.35" x2="320.50" y2="60.35" stroke="#141414" stroke-width="0.8" />
<line x1="317.70" y1="53.20" x2="320.50" y2="53.20" stroke="#141414" stroke-width="0.8" />
<line x1="318.90" y1="46.05" x2="320.50" y2="46.05" stroke="#141414" stroke-width="0.8" />
<line x1="317.70" y1="38.90" x2="320.50" y2="38.90" stroke="#141414" stroke-width="0.8" />
<line x1="318.90" y1="31.75" x2="320.50" y2="31.75" stroke="#141414" stroke-width="0.8" />
<text transform="translate(315.20,41.45) scale(1.08,1)" font-size="7.1" text-anchor="end" font-weight="normal" fill="#141414"  stroke="#141414" stroke-width="0.1">400</text>
<text transform="translate(315.20,55.75) scale(1.08,1)" font-size="7.1" text-anchor="end" font-weight="normal" fill="#141414"  stroke="#141414" stroke-width="0.1">300</text>
<text transform="translate(315.20,70.05) scale(1.08,1)" font-size="7.1" text-anchor="end" font-weight="normal" fill="#141414"  stroke="#141414" stroke-width="0.1">200</text>
<text transform="translate(315.20,84.35) scale(1.08,1)" font-size="7.1" text-anchor="end" font-weight="normal" fill="#141414"  stroke="#141414" stroke-width="0.1">100</text>
<text transform="translate(315.20,98.65) scale(1.08,1)" font-size="7.1" text-anchor="end" font-weight="normal" fill="#141414"  stroke="#141414" stroke-width="0.1">0</text>
<text transform="translate(315.20,112.95) scale(1.08,1)" font-size="7.1" text-anchor="end" font-weight="normal" fill="#141414"  stroke="#141414" stroke-width="0.1">−100</text>
<line x1="325.20" y1="112.50" x2="325.20" y2="115.30" stroke="#141414" stroke-width="0.8" />
<text transform="translate(325.20,125.00) scale(1.08,1)" font-size="7.1" text-anchor="middle" font-weight="normal" fill="#141414"  stroke="#141414" stroke-width="0.1">0</text>
<line x1="337.96" y1="112.50" x2="337.96" y2="115.30" stroke="#141414" stroke-width="0.8" />
<text transform="translate(337.96,125.00) scale(1.08,1)" font-size="7.1" text-anchor="middle" font-weight="normal" fill="#141414"  stroke="#141414" stroke-width="0.1">4</text>
<line x1="350.72" y1="112.50" x2="350.72" y2="115.30" stroke="#141414" stroke-width="0.8" />
<text transform="translate(350.72,125.00) scale(1.08,1)" font-size="7.1" text-anchor="middle" font-weight="normal" fill="#141414"  stroke="#141414" stroke-width="0.1">8</text>
<line x1="363.48" y1="112.50" x2="363.48" y2="115.30" stroke="#141414" stroke-width="0.8" />
<text transform="translate(363.48,125.00) scale(1.08,1)" font-size="7.1" text-anchor="middle" font-weight="normal" fill="#141414"  stroke="#141414" stroke-width="0.1">12</text>
<line x1="376.24" y1="112.50" x2="376.24" y2="115.30" stroke="#141414" stroke-width="0.8" />
<text transform="translate(376.24,125.00) scale(1.08,1)" font-size="7.1" text-anchor="middle" font-weight="normal" fill="#141414"  stroke="#141414" stroke-width="0.1">16</text>
<line x1="389.00" y1="112.50" x2="389.00" y2="115.30" stroke="#141414" stroke-width="0.8" />
<text transform="translate(389.00,125.00) scale(1.08,1)" font-size="7.1" text-anchor="middle" font-weight="normal" fill="#141414"  stroke="#141414" stroke-width="0.1">20</text>
<line x1="401.76" y1="112.50" x2="401.76" y2="115.30" stroke="#141414" stroke-width="0.8" />
<text transform="translate(401.76,125.00) scale(1.08,1)" font-size="7.1" text-anchor="middle" font-weight="normal" fill="#141414"  stroke="#141414" stroke-width="0.1">24</text>
<line x1="414.52" y1="112.50" x2="414.52" y2="115.30" stroke="#141414" stroke-width="0.8" />
<text transform="translate(414.52,125.00) scale(1.08,1)" font-size="7.1" text-anchor="middle" font-weight="normal" fill="#141414"  stroke="#141414" stroke-width="0.1">28</text>
<g transform="translate(372.5,137.7) scale(0.7,1)"><text x="0" y="0" font-size="9" text-anchor="middle" fill="#141414" stroke="#141414" stroke-width="0.25">Study days</text></g>
<text x="369.60" y="27.20" font-size="8.6" text-anchor="middle" font-weight="bold" fill="#000" stroke="#000" stroke-width="0.2">TRL595</text>
<circle cx="375.70" cy="55.80" r="1.9" fill="#c8173a"/>
<text x="380.00" y="58.30" font-size="7" text-anchor="start" font-weight="normal" fill="#141414"  stroke="#141414" stroke-width="0.1">Control</text>
<circle cx="375.70" cy="65.50" r="1.9" fill="#1c5791"/>
<text transform="translate(380.00,68.00) scale(0.965,1)" font-size="7" text-anchor="start" font-weight="normal" fill="#141414"  stroke="#141414" stroke-width="0.1">Navtemadlin</text>
<polyline points="325.20,96.10 334.77,96.10 347.53,94.53 357.10,94.10 369.86,102.82 382.62,104.39 392.19,103.25" fill="none" stroke="#1c5791" stroke-width="0.7" stroke-linejoin="round" opacity="0.8"/>
<circle cx="325.20" cy="96.10" r="0.6" fill="#1c5791"/>
<circle cx="334.77" cy="96.10" r="0.6" fill="#1c5791"/>
<circle cx="347.53" cy="94.53" r="0.6" fill="#1c5791"/>
<circle cx="357.10" cy="94.10" r="0.6" fill="#1c5791"/>
<circle cx="369.86" cy="102.82" r="0.6" fill="#1c5791"/>
<circle cx="382.62" cy="104.39" r="0.6" fill="#1c5791"/>
<circle cx="392.19" cy="103.25" r="0.6" fill="#1c5791"/>
<polyline points="325.20,96.10 334.77,97.10 347.53,99.39 357.10,100.39 369.86,102.82 382.62,104.68 392.19,106.97" fill="none" stroke="#1c5791" stroke-width="0.7" stroke-linejoin="round" opacity="0.8"/>
<circle cx="325.20" cy="96.10" r="0.6" fill="#1c5791"/>
<circle cx="334.77" cy="97.10" r="0.6" fill="#1c5791"/>
<circle cx="347.53" cy="99.39" r="0.6" fill="#1c5791"/>
<circle cx="357.10" cy="100.39" r="0.6" fill="#1c5791"/>
<circle cx="369.86" cy="102.82" r="0.6" fill="#1c5791"/>
<circle cx="382.62" cy="104.68" r="0.6" fill="#1c5791"/>
<circle cx="392.19" cy="106.97" r="0.6" fill="#1c5791"/>
<polyline points="325.20,96.10 334.77,97.10 347.53,99.39 357.10,102.11 369.86,103.82 382.62,105.39 392.19,109.68 401.76,109.68 414.52,108.97" fill="none" stroke="#1c5791" stroke-width="0.7" stroke-linejoin="round" opacity="0.8"/>
<circle cx="325.20" cy="96.10" r="0.6" fill="#1c5791"/>
<circle cx="334.77" cy="97.10" r="0.6" fill="#1c5791"/>
<circle cx="347.53" cy="99.39" r="0.6" fill="#1c5791"/>
<circle cx="357.10" cy="102.11" r="0.6" fill="#1c5791"/>
<circle cx="369.86" cy="103.82" r="0.6" fill="#1c5791"/>
<circle cx="382.62" cy="105.39" r="0.6" fill="#1c5791"/>
<circle cx="392.19" cy="109.68" r="0.6" fill="#1c5791"/>
<circle cx="401.76" cy="109.68" r="0.6" fill="#1c5791"/>
<circle cx="414.52" cy="108.97" r="0.6" fill="#1c5791"/>
<polyline points="325.20,96.10 334.77,96.67 347.53,98.24 357.10,101.10 369.86,103.25 382.62,104.97 392.19,106.40" fill="none" stroke="#1c5791" stroke-width="0.7" stroke-linejoin="round" opacity="0.8"/>
<circle cx="325.20" cy="96.10" r="0.6" fill="#1c5791"/>
<circle cx="334.77" cy="96.67" r="0.6" fill="#1c5791"/>
<circle cx="347.53" cy="98.24" r="0.6" fill="#1c5791"/>
<circle cx="357.10" cy="101.10" r="0.6" fill="#1c5791"/>
<circle cx="369.86" cy="103.25" r="0.6" fill="#1c5791"/>
<circle cx="382.62" cy="104.97" r="0.6" fill="#1c5791"/>
<circle cx="392.19" cy="106.40" r="0.6" fill="#1c5791"/>
<polyline points="325.20,96.10 334.77,85.80 347.53,72.93 357.10,65.07 369.86,51.63 382.62,44.48 392.19,35.61" fill="none" stroke="#c8173a" stroke-width="0.9" stroke-linejoin="round" />
<circle cx="325.20" cy="96.10" r="0.75" fill="#c8173a"/>
<circle cx="334.77" cy="85.80" r="0.75" fill="#c8173a"/>
<circle cx="347.53" cy="72.93" r="0.75" fill="#c8173a"/>
<circle cx="357.10" cy="65.07" r="0.75" fill="#c8173a"/>
<circle cx="369.86" cy="51.63" r="0.75" fill="#c8173a"/>
<circle cx="382.62" cy="44.48" r="0.75" fill="#c8173a"/>
<circle cx="392.19" cy="35.61" r="0.75" fill="#c8173a"/>
<polyline points="325.20,96.10 334.77,90.38 347.53,72.93 360.29,66.64 369.86,51.63" fill="none" stroke="#c8173a" stroke-width="0.9" stroke-linejoin="round" />
<circle cx="325.20" cy="96.10" r="0.75" fill="#c8173a"/>
<circle cx="334.77" cy="90.38" r="0.75" fill="#c8173a"/>
<circle cx="347.53" cy="72.93" r="0.75" fill="#c8173a"/>
<circle cx="360.29" cy="66.64" r="0.75" fill="#c8173a"/>
<circle cx="369.86" cy="51.63" r="0.75" fill="#c8173a"/>
<polyline points="325.20,96.10 334.77,91.81 347.53,80.37 357.10,70.07 369.86,51.63" fill="none" stroke="#c8173a" stroke-width="0.9" stroke-linejoin="round" />
<circle cx="325.20" cy="96.10" r="0.75" fill="#c8173a"/>
<circle cx="334.77" cy="91.81" r="0.75" fill="#c8173a"/>
<circle cx="347.53" cy="80.37" r="0.75" fill="#c8173a"/>
<circle cx="357.10" cy="70.07" r="0.75" fill="#c8173a"/>
<circle cx="369.86" cy="51.63" r="0.75" fill="#c8173a"/>
<polyline points="325.20,96.10 334.77,93.95 347.53,87.81 357.10,84.95 369.86,79.51" fill="none" stroke="#c8173a" stroke-width="0.9" stroke-linejoin="round" />
<circle cx="325.20" cy="96.10" r="0.75" fill="#c8173a"/>
<circle cx="334.77" cy="93.95" r="0.75" fill="#c8173a"/>
<circle cx="347.53" cy="87.81" r="0.75" fill="#c8173a"/>
<circle cx="357.10" cy="84.95" r="0.75" fill="#c8173a"/>
<circle cx="369.86" cy="79.51" r="0.75" fill="#c8173a"/>
<line x1="195.00" y1="151.80" x2="195.00" y2="254.40" stroke="#000" stroke-width="1.2" />
<line x1="192.20" y1="249.99" x2="195.00" y2="249.99" stroke="#141414" stroke-width="0.8" />
<line x1="192.20" y1="241.50" x2="195.00" y2="241.50" stroke="#141414" stroke-width="0.8" />
<line x1="193.40" y1="233.01" x2="195.00" y2="233.01" stroke="#141414" stroke-width="0.8" />
<line x1="192.20" y1="224.52" x2="195.00" y2="224.52" stroke="#141414" stroke-width="0.8" />
<line x1="193.40" y1="216.03" x2="195.00" y2="216.03" stroke="#141414" stroke-width="0.8" />
<line x1="192.20" y1="207.54" x2="195.00" y2="207.54" stroke="#141414" stroke-width="0.8" />
<line x1="193.40" y1="199.05" x2="195.00" y2="199.05" stroke="#141414" stroke-width="0.8" />
<line x1="192.20" y1="190.56" x2="195.00" y2="190.56" stroke="#141414" stroke-width="0.8" />
<line x1="193.40" y1="182.07" x2="195.00" y2="182.07" stroke="#141414" stroke-width="0.8" />
<line x1="192.20" y1="173.58" x2="195.00" y2="173.58" stroke="#141414" stroke-width="0.8" />
<line x1="193.40" y1="165.09" x2="195.00" y2="165.09" stroke="#141414" stroke-width="0.8" />
<line x1="192.20" y1="156.60" x2="195.00" y2="156.60" stroke="#141414" stroke-width="0.8" />
<line x1="193.40" y1="254.24" x2="195.00" y2="254.24" stroke="#141414" stroke-width="0.8" />
<text transform="translate(190.20,158.60) scale(1.08,1)" font-size="7.1" text-anchor="end" font-weight="normal" fill="#141414"  stroke="#141414" stroke-width="0.1">1000</text>
<text transform="translate(190.20,175.58) scale(1.08,1)" font-size="7.1" text-anchor="end" font-weight="normal" fill="#141414"  stroke="#141414" stroke-width="0.1">800</text>
<text transform="translate(190.20,192.56) scale(1.08,1)" font-size="7.1" text-anchor="end" font-weight="normal" fill="#141414"  stroke="#141414" stroke-width="0.1">600</text>
<text transform="translate(190.20,209.54) scale(1.08,1)" font-size="7.1" text-anchor="end" font-weight="normal" fill="#141414"  stroke="#141414" stroke-width="0.1">400</text>
<text transform="translate(190.20,226.52) scale(1.08,1)" font-size="7.1" text-anchor="end" font-weight="normal" fill="#141414"  stroke="#141414" stroke-width="0.1">200</text>
<text transform="translate(190.20,243.50) scale(1.08,1)" font-size="7.1" text-anchor="end" font-weight="normal" fill="#141414"  stroke="#141414" stroke-width="0.1">0</text>
<text transform="translate(190.20,251.99) scale(1.08,1)" font-size="7.1" text-anchor="end" font-weight="normal" fill="#141414"  stroke="#141414" stroke-width="0.1">−100</text>
<g transform="translate(168.20,205.40) rotate(-90) scale(0.715,1)"><text x="0" y="0" font-size="9" text-anchor="middle" fill="#141414" stroke="#141414" stroke-width="0.25">Tumor volume changes (%) at day 21</text></g>
<rect x="198.3" y="160.42" width="7.3" height="81.08" fill="#c8173a"/>
<rect x="207.5" y="176.98" width="7.3" height="64.52" fill="#c8173a"/>
<rect x="217.0" y="195.65" width="7.3" height="45.85" fill="#c8173a"/>
<rect x="227.0" y="207.54" width="7.3" height="33.96" fill="#c8173a"/>
<rect x="236.1" y="223.67" width="7.3" height="17.83" fill="#c8173a"/>
<rect x="245.5" y="241.50" width="7.3" height="5.86" fill="#1c5791"/>
<rect x="254.8" y="241.50" width="7.3" height="7.13" fill="#1c5791"/>
<rect x="264.5" y="241.50" width="7.3" height="6.62" fill="#1c5791"/>
<rect x="274.0" y="241.50" width="7.3" height="6.62" fill="#1c5791"/>
<rect x="283.3" y="241.50" width="7.3" height="8.32" fill="#1c5791"/>
<line x1="195.00" y1="241.50" x2="294.70" y2="241.50" stroke="#000" stroke-width="1.1" />
<rect x="245.6" y="164.3" width="5.2" height="5.2" fill="#c8173a"/>
<text x="254.00" y="169.40" font-size="7" text-anchor="start" font-weight="normal" fill="#141414"  stroke="#141414" stroke-width="0.1">Control</text>
<rect x="245.6" y="174.1" width="5.2" height="5.2" fill="#1c5791"/>
<text transform="translate(254.00,179.10) scale(0.97,1)" font-size="7" text-anchor="start" font-weight="normal" fill="#141414"  stroke="#141414" stroke-width="0.1">Navtemadlin</text>
<line x1="319.80" y1="151.70" x2="319.80" y2="254.31" stroke="#000" stroke-width="1.1" />
<line x1="317.00" y1="250.10" x2="319.80" y2="250.10" stroke="#141414" stroke-width="0.8" />
<line x1="317.00" y1="234.50" x2="319.80" y2="234.50" stroke="#141414" stroke-width="0.8" />
<line x1="317.00" y1="218.90" x2="319.80" y2="218.90" stroke="#141414" stroke-width="0.8" />
<line x1="317.00" y1="203.30" x2="319.80" y2="203.30" stroke="#141414" stroke-width="0.8" />
<line x1="317.00" y1="187.70" x2="319.80" y2="187.70" stroke="#141414" stroke-width="0.8" />
<line x1="317.00" y1="172.10" x2="319.80" y2="172.10" stroke="#141414" stroke-width="0.8" />
<line x1="317.00" y1="156.50" x2="319.80" y2="156.50" stroke="#141414" stroke-width="0.8" />
<text transform="translate(315.20,158.40) scale(1.08,1)" font-size="7.1" text-anchor="end" font-weight="normal" fill="#141414"  stroke="#141414" stroke-width="0.1">500</text>
<text transform="translate(315.20,174.00) scale(1.08,1)" font-size="7.1" text-anchor="end" font-weight="normal" fill="#141414"  stroke="#141414" stroke-width="0.1">400</text>
<text transform="translate(315.20,189.60) scale(1.08,1)" font-size="7.1" text-anchor="end" font-weight="normal" fill="#141414"  stroke="#141414" stroke-width="0.1">300</text>
<text transform="translate(315.20,205.20) scale(1.08,1)" font-size="7.1" text-anchor="end" font-weight="normal" fill="#141414"  stroke="#141414" stroke-width="0.1">200</text>
<text transform="translate(315.20,220.80) scale(1.08,1)" font-size="7.1" text-anchor="end" font-weight="normal" fill="#141414"  stroke="#141414" stroke-width="0.1">100</text>
<text transform="translate(315.20,236.40) scale(1.08,1)" font-size="7.1" text-anchor="end" font-weight="normal" fill="#141414"  stroke="#141414" stroke-width="0.1">0</text>
<text transform="translate(315.20,252.00) scale(1.08,1)" font-size="7.1" text-anchor="end" font-weight="normal" fill="#141414"  stroke="#141414" stroke-width="0.1">−100</text>
<rect x="329.0" y="167.89" width="9.3" height="66.61" fill="#c8173a"/>
<rect x="341.5" y="234.50" width="9.3" height="7.96" fill="#1c5791"/>
<rect x="354.2" y="234.50" width="9.3" height="11.23" fill="#1c5791"/>
<rect x="366.9" y="234.50" width="9.3" height="12.48" fill="#1c5791"/>
<rect x="379.2" y="234.50" width="9.3" height="15.13" fill="#1c5791"/>
<rect x="391.5" y="234.50" width="9.3" height="15.13" fill="#1c5791"/>
<line x1="319.80" y1="234.50" x2="405.00" y2="234.50" stroke="#000" stroke-width="1.1" />
<rect x="356.4" y="164.5" width="4.9" height="4.7" fill="#c8173a"/>
<text x="364.50" y="169.30" font-size="7" text-anchor="start" font-weight="normal" fill="#141414"  stroke="#141414" stroke-width="0.1">Control</text>
<rect x="356.4" y="174.0" width="4.9" height="4.7" fill="#1c5791"/>
<text x="364.50" y="178.80" font-size="7" text-anchor="start" font-weight="normal" fill="#141414"  stroke="#141414" stroke-width="0.1">Navtemadlin</text>
<text transform="translate(426.80,15.50) scale(0.9,1)" font-size="11.3" text-anchor="start" font-weight="bold" fill="#000" stroke="#000" stroke-width="0.3">D</text>
<text x="427.00" y="27.40" font-size="9" text-anchor="start" font-weight="normal" fill="#111"  stroke="#111" stroke-width="0.1">TRL595: Control liver</text>
<text x="469.50" y="135.20" font-size="9" text-anchor="middle" font-weight="normal" fill="#111"  stroke="#111" stroke-width="0.1">TRL595:</text>
<text x="469.50" y="146.00" font-size="9" text-anchor="middle" font-weight="normal" fill="#111"  stroke="#111" stroke-width="0.1">Navt treated liver</text>
<g clip-path="url(#ph1)">
<rect x="426" y="31.7" width="87" height="80.8" fill="#e2dede"/>
<g><line x1="400.0" y1="31" x2="440.0" y2="113" stroke="#ffffff" stroke-width="0.8" opacity="0.09"/><line x1="402.2" y1="31" x2="442.2" y2="113" stroke="#b0a8a8" stroke-width="0.8" opacity="0.13"/><line x1="404.4" y1="31" x2="444.4" y2="113" stroke="#ffffff" stroke-width="0.8" opacity="0.11"/><line x1="406.6" y1="31" x2="446.6" y2="113" stroke="#b0a8a8" stroke-width="0.8" opacity="0.14"/><line x1="408.8" y1="31" x2="448.8" y2="113" stroke="#ffffff" stroke-width="0.8" opacity="0.14"/><line x1="411.0" y1="31" x2="451.0" y2="113" stroke="#b0a8a8" stroke-width="0.8" opacity="0.06"/><line x1="413.2" y1="31" x2="453.2" y2="113" stroke="#ffffff" stroke-width="0.8" opacity="0.05"/><line x1="415.4" y1="31" x2="455.4" y2="113" stroke="#b0a8a8" stroke-width="0.8" opacity="0.18"/><line x1="417.6" y1="31" x2="457.6" y2="113" stroke="#ffffff" stroke-width="0.8" opacity="0.09"/><line x1="419.8" y1="31" x2="459.8" y2="113" stroke="#b0a8a8" stroke-width="0.8" opacity="0.09"/><line x1="422.0" y1="31" x2="462.0" y2="113" stroke="#ffffff" stroke-width="0.8" opacity="0.20"/><line x1="424.2" y1="31" x2="464.2" y2="113" stroke="#b0a8a8" stroke-width="0.8" opacity="0.12"/><line x1="426.4" y1="31" x2="466.4" y2="113" stroke="#ffffff" stroke-width="0.8" opacity="0.18"/><line x1="428.6" y1="31" x2="468.6" y2="113" stroke="#b0a8a8" stroke-width="0.8" opacity="0.12"/><line x1="430.8" y1="31" x2="470.8" y2="113" stroke="#ffffff" stroke-width="0.8" opacity="0.15"/><line x1="433.0" y1="31" x2="473.0" y2="113" stroke="#b0a8a8" stroke-width="0.8" opacity="0.07"/><line x1="435.2" y1="31" x2="475.2" y2="113" stroke="#ffffff" stroke-width="0.8" opacity="0.15"/><line x1="437.4" y1="31" x2="477.4" y2="113" stroke="#b0a8a8" stroke-width="0.8" opacity="0.18"/><line x1="439.6" y1="31" x2="479.6" y2="113" stroke="#ffffff" stroke-width="0.8" opacity="0.13"/><line x1="441.8" y1="31" x2="481.8" y2="113" stroke="#b0a8a8" stroke-width="0.8" opacity="0.16"/><line x1="444.0" y1="31" x2="484.0" y2="113" stroke="#ffffff" stroke-width="0.8" opacity="0.15"/><line x1="446.2" y1="31" x2="486.2" y2="113" stroke="#b0a8a8" stroke-width="0.8" opacity="0.06"/><line x1="448.4" y1="31" x2="488.4" y2="113" stroke="#ffffff" stroke-width="0.8" opacity="0.16"/><line x1="450.6" y1="31" x2="490.6" y2="113" stroke="#b0a8a8" stroke-width="0.8" opacity="0.14"/><line x1="452.8" y1="31" x2="492.8" y2="113" stroke="#ffffff" stroke-width="0.8" opacity="0.10"/><line x1="455.0" y1="31" x2="495.0" y2="113" stroke="#b0a8a8" stroke-width="0.8" opacity="0.05"/><line x1="457.2" y1="31" x2="497.2" y2="113" stroke="#ffffff" stroke-width="0.8" opacity="0.18"/><line x1="459.4" y1="31" x2="499.4" y2="113" stroke="#b0a8a8" stroke-width="0.8" opacity="0.12"/><line x1="461.6" y1="31" x2="501.6" y2="113" stroke="#ffffff" stroke-width="0.8" opacity="0.16"/><line x1="463.8" y1="31" x2="503.8" y2="113" stroke="#b0a8a8" stroke-width="0.8" opacity="0.18"/><line x1="466.0" y1="31" x2="506.0" y2="113" stroke="#ffffff" stroke-width="0.8" opacity="0.16"/><line x1="468.2" y1="31" x2="508.2" y2="113" stroke="#b0a8a8" stroke-width="0.8" opacity="0.19"/><line x1="470.4" y1="31" x2="510.4" y2="113" stroke="#ffffff" stroke-width="0.8" opacity="0.11"/><line x1="472.6" y1="31" x2="512.6" y2="113" stroke="#b0a8a8" stroke-width="0.8" opacity="0.17"/><line x1="474.8" y1="31" x2="514.8" y2="113" stroke="#ffffff" stroke-width="0.8" opacity="0.12"/><line x1="477.0" y1="31" x2="517.0" y2="113" stroke="#b0a8a8" stroke-width="0.8" opacity="0.19"/><line x1="479.2" y1="31" x2="519.2" y2="113" stroke="#ffffff" stroke-width="0.8" opacity="0.18"/><line x1="481.4" y1="31" x2="521.4" y2="113" stroke="#b0a8a8" stroke-width="0.8" opacity="0.06"/><line x1="483.6" y1="31" x2="523.6" y2="113" stroke="#ffffff" stroke-width="0.8" opacity="0.07"/><line x1="485.8" y1="31" x2="525.8" y2="113" stroke="#b0a8a8" stroke-width="0.8" opacity="0.08"/><line x1="488.0" y1="31" x2="528.0" y2="113" stroke="#ffffff" stroke-width="0.8" opacity="0.19"/><line x1="490.2" y1="31" x2="530.2" y2="113" stroke="#b0a8a8" stroke-width="0.8" opacity="0.12"/><line x1="492.4" y1="31" x2="532.4" y2="113" stroke="#ffffff" stroke-width="0.8" opacity="0.14"/><line x1="494.6" y1="31" x2="534.6" y2="113" stroke="#b0a8a8" stroke-width="0.8" opacity="0.10"/><line x1="496.8" y1="31" x2="536.8" y2="113" stroke="#ffffff" stroke-width="0.8" opacity="0.13"/><line x1="499.0" y1="31" x2="539.0" y2="113" stroke="#b0a8a8" stroke-width="0.8" opacity="0.11"/><line x1="501.2" y1="31" x2="541.2" y2="113" stroke="#ffffff" stroke-width="0.8" opacity="0.10"/><line x1="503.4" y1="31" x2="543.4" y2="113" stroke="#b0a8a8" stroke-width="0.8" opacity="0.14"/><line x1="505.6" y1="31" x2="545.6" y2="113" stroke="#ffffff" stroke-width="0.8" opacity="0.14"/><line x1="507.8" y1="31" x2="547.8" y2="113" stroke="#b0a8a8" stroke-width="0.8" opacity="0.19"/><line x1="510.0" y1="31" x2="550.0" y2="113" stroke="#ffffff" stroke-width="0.8" opacity="0.15"/><line x1="512.2" y1="31" x2="552.2" y2="113" stroke="#b0a8a8" stroke-width="0.8" opacity="0.19"/><line x1="514.4" y1="31" x2="554.4" y2="113" stroke="#ffffff" stroke-width="0.8" opacity="0.18"/><line x1="516.6" y1="31" x2="556.6" y2="113" stroke="#b0a8a8" stroke-width="0.8" opacity="0.20"/><line x1="518.8" y1="31" x2="558.8" y2="113" stroke="#ffffff" stroke-width="0.8" opacity="0.15"/><line x1="521.0" y1="31" x2="561.0" y2="113" stroke="#b0a8a8" stroke-width="0.8" opacity="0.07"/><line x1="523.2" y1="31" x2="563.2" y2="113" stroke="#ffffff" stroke-width="0.8" opacity="0.18"/><line x1="525.4" y1="31" x2="565.4" y2="113" stroke="#b0a8a8" stroke-width="0.8" opacity="0.19"/><line x1="527.6" y1="31" x2="567.6" y2="113" stroke="#ffffff" stroke-width="0.8" opacity="0.19"/><line x1="529.8" y1="31" x2="569.8" y2="113" stroke="#b0a8a8" stroke-width="0.8" opacity="0.14"/><line x1="420.0" y1="31" x2="390.0" y2="113" stroke="#ffffff" stroke-width="0.7" opacity="0.14"/><line x1="423.0" y1="31" x2="393.0" y2="113" stroke="#b0a8a8" stroke-width="0.7" opacity="0.08"/><line x1="426.0" y1="31" x2="396.0" y2="113" stroke="#ffffff" stroke-width="0.7" opacity="0.16"/><line x1="429.0" y1="31" x2="399.0" y2="113" stroke="#b0a8a8" stroke-width="0.7" opacity="0.12"/><line x1="432.0" y1="31" x2="402.0" y2="113" stroke="#ffffff" stroke-width="0.7" opacity="0.09"/><line x1="435.0" y1="31" x2="405.0" y2="113" stroke="#b0a8a8" stroke-width="0.7" opacity="0.06"/><line x1="438.0" y1="31" x2="408.0" y2="113" stroke="#ffffff" stroke-width="0.7" opacity="0.16"/><line x1="441.0" y1="31" x2="411.0" y2="113" stroke="#b0a8a8" stroke-width="0.7" opacity="0.18"/><line x1="444.0" y1="31" x2="414.0" y2="113" stroke="#ffffff" stroke-width="0.7" opacity="0.06"/><line x1="447.0" y1="31" x2="417.0" y2="113" stroke="#b0a8a8" stroke-width="0.7" opacity="0.15"/><line x1="450.0" y1="31" x2="420.0" y2="113" stroke="#ffffff" stroke-width="0.7" opacity="0.10"/><line x1="453.0" y1="31" x2="423.0" y2="113" stroke="#b0a8a8" stroke-width="0.7" opacity="0.07"/><line x1="456.0" y1="31" x2="426.0" y2="113" stroke="#ffffff" stroke-width="0.7" opacity="0.09"/><line x1="459.0" y1="31" x2="429.0" y2="113" stroke="#b0a8a8" stroke-width="0.7" opacity="0.15"/><line x1="462.0" y1="31" x2="432.0" y2="113" stroke="#ffffff" stroke-width="0.7" opacity="0.16"/><line x1="465.0" y1="31" x2="435.0" y2="113" stroke="#b0a8a8" stroke-width="0.7" opacity="0.06"/><line x1="468.0" y1="31" x2="438.0" y2="113" stroke="#ffffff" stroke-width="0.7" opacity="0.13"/><line x1="471.0" y1="31" x2="441.0" y2="113" stroke="#b0a8a8" stroke-width="0.7" opacity="0.06"/><line x1="474.0" y1="31" x2="444.0" y2="113" stroke="#ffffff" stroke-width="0.7" opacity="0.14"/><line x1="477.0" y1="31" x2="447.0" y2="113" stroke="#b0a8a8" stroke-width="0.7" opacity="0.09"/><line x1="480.0" y1="31" x2="450.0" y2="113" stroke="#ffffff" stroke-width="0.7" opacity="0.16"/><line x1="483.0" y1="31" x2="453.0" y2="113" stroke="#b0a8a8" stroke-width="0.7" opacity="0.18"/><line x1="486.0" y1="31" x2="456.0" y2="113" stroke="#ffffff" stroke-width="0.7" opacity="0.12"/><line x1="489.0" y1="31" x2="459.0" y2="113" stroke="#b0a8a8" stroke-width="0.7" opacity="0.18"/><line x1="492.0" y1="31" x2="462.0" y2="113" stroke="#ffffff" stroke-width="0.7" opacity="0.09"/><line x1="495.0" y1="31" x2="465.0" y2="113" stroke="#b0a8a8" stroke-width="0.7" opacity="0.06"/><line x1="498.0" y1="31" x2="468.0" y2="113" stroke="#ffffff" stroke-width="0.7" opacity="0.13"/><line x1="501.0" y1="31" x2="471.0" y2="113" stroke="#b0a8a8" stroke-width="0.7" opacity="0.05"/><line x1="504.0" y1="31" x2="474.0" y2="113" stroke="#ffffff" stroke-width="0.7" opacity="0.08"/><line x1="507.0" y1="31" x2="477.0" y2="113" stroke="#b0a8a8" stroke-width="0.7" opacity="0.10"/><line x1="510.0" y1="31" x2="480.0" y2="113" stroke="#ffffff" stroke-width="0.7" opacity="0.13"/><line x1="513.0" y1="31" x2="483.0" y2="113" stroke="#b0a8a8" stroke-width="0.7" opacity="0.07"/><line x1="516.0" y1="31" x2="486.0" y2="113" stroke="#ffffff" stroke-width="0.7" opacity="0.06"/><line x1="519.0" y1="31" x2="489.0" y2="113" stroke="#b0a8a8" stroke-width="0.7" opacity="0.16"/><line x1="522.0" y1="31" x2="492.0" y2="113" stroke="#ffffff" stroke-width="0.7" opacity="0.09"/><line x1="525.0" y1="31" x2="495.0" y2="113" stroke="#b0a8a8" stroke-width="0.7" opacity="0.17"/><line x1="528.0" y1="31" x2="498.0" y2="113" stroke="#ffffff" stroke-width="0.7" opacity="0.17"/><line x1="531.0" y1="31" x2="501.0" y2="113" stroke="#b0a8a8" stroke-width="0.7" opacity="0.10"/><line x1="534.0" y1="31" x2="504.0" y2="113" stroke="#ffffff" stroke-width="0.7" opacity="0.11"/><line x1="537.0" y1="31" x2="507.0" y2="113" stroke="#b0a8a8" stroke-width="0.7" opacity="0.12"/></g>
<g filter="url(#bl2)"><path d="M426,90 L440,92 L447,104 L449,113 L426,113 Z" fill="#f0c4c8" opacity="0.7"/><path d="M472,104 L494,100 L513,88 L513,113 L468,113 Z" fill="#eca8ac" opacity="0.7"/></g>
<g filter="url(#bl1)"><line x1="426.0" y1="113" x2="425.3" y2="87.4" stroke="#e03040" stroke-width="0.45" opacity="0.51"/><line x1="428.4" y1="113" x2="426.7" y2="90.8" stroke="#e03040" stroke-width="0.45" opacity="0.44"/><line x1="430.8" y1="113" x2="429.0" y2="90.6" stroke="#e03040" stroke-width="0.45" opacity="0.36"/><line x1="433.2" y1="113" x2="432.9" y2="86.6" stroke="#e03040" stroke-width="0.45" opacity="0.37"/><line x1="435.6" y1="113" x2="435.3" y2="93.4" stroke="#e03040" stroke-width="0.45" opacity="0.38"/><line x1="438.0" y1="113" x2="436.9" y2="91.6" stroke="#e03040" stroke-width="0.45" opacity="0.59"/><line x1="440.4" y1="113" x2="440.7" y2="89.6" stroke="#e03040" stroke-width="0.45" opacity="0.59"/><line x1="442.8" y1="113" x2="441.0" y2="93.7" stroke="#e03040" stroke-width="0.45" opacity="0.42"/><line x1="445.2" y1="113" x2="443.8" y2="87.1" stroke="#e03040" stroke-width="0.45" opacity="0.43"/><line x1="447.6" y1="113" x2="448.9" y2="87.6" stroke="#e03040" stroke-width="0.45" opacity="0.50"/><line x1="426" y1="95.0" x2="446" y2="89.0" stroke="#e03040" stroke-width="0.45" opacity="0.4"/><line x1="426" y1="98.2" x2="446" y2="92.2" stroke="#e03040" stroke-width="0.45" opacity="0.4"/><line x1="426" y1="101.4" x2="446" y2="95.4" stroke="#e03040" stroke-width="0.45" opacity="0.4"/><line x1="426" y1="104.6" x2="446" y2="98.6" stroke="#e03040" stroke-width="0.45" opacity="0.4"/><line x1="426" y1="107.8" x2="446" y2="101.8" stroke="#e03040" stroke-width="0.45" opacity="0.4"/><line x1="426" y1="111.0" x2="446" y2="105.0" stroke="#e03040" stroke-width="0.45" opacity="0.4"/><line x1="470.0" y1="113" x2="477.2" y2="95.0" stroke="#d82838" stroke-width="0.5" opacity="0.49"/><line x1="473.0" y1="113" x2="477.3" y2="92.5" stroke="#d82838" stroke-width="0.5" opacity="0.40"/><line x1="476.0" y1="113" x2="483.4" y2="95.4" stroke="#d82838" stroke-width="0.5" opacity="0.43"/><line x1="479.0" y1="113" x2="485.9" y2="95.6" stroke="#d82838" stroke-width="0.5" opacity="0.42"/><line x1="482.0" y1="113" x2="490.0" y2="97.6" stroke="#d82838" stroke-width="0.5" opacity="0.41"/><line x1="485.0" y1="113" x2="491.9" y2="96.2" stroke="#d82838" stroke-width="0.5" opacity="0.57"/><line x1="488.0" y1="113" x2="495.6" y2="94.3" stroke="#d82838" stroke-width="0.5" opacity="0.60"/><line x1="491.0" y1="113" x2="495.6" y2="95.3" stroke="#d82838" stroke-width="0.5" opacity="0.54"/><line x1="494.0" y1="113" x2="498.8" y2="95.9" stroke="#d82838" stroke-width="0.5" opacity="0.36"/><line x1="497.0" y1="113" x2="504.3" y2="98.1" stroke="#d82838" stroke-width="0.5" opacity="0.49"/><line x1="500.0" y1="113" x2="508.4" y2="94.5" stroke="#d82838" stroke-width="0.5" opacity="0.52"/><line x1="503.0" y1="113" x2="510.0" y2="96.6" stroke="#d82838" stroke-width="0.5" opacity="0.46"/><line x1="506.0" y1="113" x2="514.2" y2="99.6" stroke="#d82838" stroke-width="0.5" opacity="0.47"/><line x1="509.0" y1="113" x2="516.3" y2="92.5" stroke="#d82838" stroke-width="0.5" opacity="0.53"/><line x1="470" y1="106.0" x2="513" y2="96.0" stroke="#d82838" stroke-width="0.45" opacity="0.35"/><line x1="470" y1="109.0" x2="513" y2="99.0" stroke="#d82838" stroke-width="0.45" opacity="0.35"/><line x1="470" y1="112.0" x2="513" y2="102.0" stroke="#d82838" stroke-width="0.45" opacity="0.35"/><line x1="470" y1="115.0" x2="513" y2="105.0" stroke="#d82838" stroke-width="0.45" opacity="0.35"/><line x1="470" y1="118.0" x2="513" y2="108.0" stroke="#d82838" stroke-width="0.45" opacity="0.35"/></g>
<path d="M433.6,100.5 L437.8,91.5 L439.2,92.2 L435,101.2 Z" fill="#c01828" filter="url(#bl1)"/>
<g filter="url(#bl1)">
<path d="M426.8,55.0 C427.2,52.1 428.8,47.6 430.8,44.5 C432.8,41.4 435.9,38.5 438.8,36.5 C441.7,34.5 444.6,33.4 448.0,32.8 C451.4,32.2 455.5,32.2 459.0,32.7 C462.5,33.2 466.4,34.7 469.1,36.1 C471.8,37.5 473.8,38.9 475.1,41.2 C476.4,43.5 476.7,46.9 476.8,49.7 C476.9,52.5 476.6,55.7 475.9,58.2 C475.2,60.8 473.9,63.0 472.5,65.0 C471.1,67.0 469.3,68.6 467.4,70.1 C465.5,71.6 463.6,73.5 461.0,74.0 C458.4,74.5 454.9,73.2 452.0,73.0 C449.1,72.8 446.5,73.3 443.7,72.5 C440.9,71.7 437.8,69.9 435.2,68.1 C432.6,66.3 429.8,63.8 428.4,61.6 C427.0,59.4 426.4,57.9 426.8,55.0 Z" fill="#841a2c"/>
<path d="M448.6,73.1 C450.4,71.6 456.6,70.7 459.3,71.3 C462.0,71.9 462.7,74.5 464.6,76.6 C466.5,78.7 469.0,81.0 470.8,83.7 C472.6,86.4 474.3,89.6 475.2,92.6 C476.1,95.6 476.4,98.8 476.1,101.5 C475.8,104.2 475.1,107.0 473.5,108.6 C471.9,110.2 469.1,110.9 466.4,111.2 C463.7,111.5 460.2,111.0 457.5,110.3 C454.8,109.6 452.6,108.3 450.4,106.8 C448.2,105.3 445.5,103.3 444.2,101.5 C442.9,99.7 442.2,98.2 442.4,96.1 C442.5,94.0 444.1,91.7 445.1,89.0 C446.1,86.3 448.0,82.9 448.6,80.2 C449.2,77.5 446.8,74.6 448.6,73.1 Z" fill="#841a2c"/>
<path d="M479.0,73.3 C479.6,70.1 481.2,65.4 482.9,61.7 C484.6,58.1 487.2,53.5 489.3,51.4 C491.4,49.3 493.8,48.7 495.7,48.9 C497.6,49.1 499.7,50.6 500.8,52.7 C501.9,54.8 501.2,60.0 502.1,61.7 C503.0,63.4 504.6,61.9 506.0,63.0 C507.4,64.1 509.8,65.8 510.6,68.1 C511.5,70.4 511.4,74.1 511.1,77.1 C510.8,80.1 510.3,82.9 508.6,86.1 C506.9,89.3 503.2,93.8 500.8,96.4 C498.4,99.0 497.0,100.5 494.4,101.6 C491.8,102.7 487.8,103.2 485.4,102.8 C483.0,102.4 481.6,100.9 480.3,99.0 C479.0,97.1 477.9,94.3 477.7,91.3 C477.5,88.3 478.8,84.0 479.0,81.0 C479.2,78.0 478.4,76.5 479.0,73.3 Z" fill="#841a2c"/>
</g>
<g filter="url(#bl3)">
<path d="M432.1,54.8 C432.4,52.5 433.7,48.7 435.3,46.2 C437.0,43.7 439.5,41.2 441.9,39.6 C444.2,38.1 446.7,37.1 449.4,36.6 C452.2,36.1 455.6,36.1 458.5,36.5 C461.3,37.0 464.5,38.2 466.7,39.3 C468.9,40.5 470.6,41.6 471.7,43.5 C472.7,45.4 472.9,48.2 473.1,50.5 C473.2,52.8 472.9,55.4 472.3,57.4 C471.7,59.5 470.7,61.4 469.5,63.0 C468.4,64.6 466.9,66.0 465.3,67.2 C463.8,68.4 462.2,70.0 460.1,70.4 C458.0,70.8 455.1,69.8 452.7,69.6 C450.4,69.4 448.2,69.8 445.9,69.2 C443.6,68.5 441.0,67.1 438.9,65.6 C436.9,64.1 434.5,62.0 433.4,60.2 C432.2,58.4 431.7,57.2 432.1,54.8 Z" fill="#5a1024"/>
<path d="M450.5,76.1 C451.9,74.9 457.1,74.2 459.2,74.7 C461.4,75.1 462.0,77.3 463.6,79.0 C465.2,80.7 467.2,82.6 468.7,84.8 C470.1,87.0 471.6,89.7 472.3,92.1 C473.0,94.6 473.3,97.2 473.0,99.4 C472.8,101.6 472.2,103.9 470.9,105.3 C469.6,106.6 467.3,107.2 465.1,107.4 C462.9,107.6 460.0,107.2 457.8,106.6 C455.6,106.0 453.8,105.0 451.9,103.8 C450.1,102.6 448.0,100.9 446.9,99.4 C445.8,98.0 445.3,96.7 445.4,95.0 C445.5,93.3 446.8,91.4 447.6,89.2 C448.4,87.0 450.0,84.1 450.5,82.0 C451.0,79.8 449.0,77.4 450.5,76.1 Z" fill="#5a1024"/>
<path d="M481.7,73.8 C482.2,71.1 483.5,67.3 484.9,64.3 C486.3,61.3 488.4,57.6 490.1,55.8 C491.9,54.1 493.8,53.6 495.4,53.8 C497.0,54.0 498.7,55.1 499.6,56.9 C500.5,58.6 499.9,62.9 500.6,64.3 C501.4,65.7 502.7,64.5 503.8,65.3 C505.0,66.2 506.9,67.6 507.6,69.5 C508.3,71.4 508.3,74.4 508.0,76.9 C507.7,79.4 507.4,81.6 506.0,84.3 C504.6,86.9 501.5,90.6 499.6,92.7 C497.6,94.8 496.4,96.1 494.3,97.0 C492.2,97.9 488.9,98.3 486.9,98.0 C485.0,97.6 483.8,96.4 482.8,94.9 C481.7,93.3 480.8,91.0 480.6,88.5 C480.5,86.1 481.5,82.6 481.7,80.1 C481.9,77.6 481.2,76.4 481.7,73.8 Z" fill="#5a1024"/>
</g>
<g filter="url(#bl3)"><ellipse cx="462" cy="58" rx="11" ry="12" fill="#420a1a"/><ellipse cx="460" cy="94" rx="10" ry="11" fill="#400818"/><ellipse cx="493" cy="78" rx="8" ry="13" fill="#480c1c"/></g>
<g filter="url(#bl2)" opacity="0.55"><ellipse cx="440" cy="44" rx="9" ry="7" fill="#b83040"/><ellipse cx="464" cy="108" rx="8" ry="3" fill="#c02838"/><ellipse cx="505" cy="74" rx="4" ry="9" fill="#b02c3c"/><ellipse cx="484" cy="98" rx="5" ry="3" fill="#b02c3c"/></g>
<g filter="url(#bl2)"><ellipse cx="505.5" cy="69.3" rx="1.51" ry="1.37" fill="#a02a3c" opacity="0.36"/><ellipse cx="480.2" cy="95.4" rx="0.93" ry="0.86" fill="#b84a5a" opacity="0.34"/><ellipse cx="502.6" cy="82.8" rx="1.63" ry="1.62" fill="#98243a" opacity="0.59"/><ellipse cx="431.1" cy="47.2" rx="1.14" ry="0.91" fill="#b03444" opacity="0.53"/><ellipse cx="446.1" cy="55.5" rx="0.81" ry="0.62" fill="#b03444" opacity="0.44"/><ellipse cx="498.3" cy="88.6" rx="1.24" ry="0.77" fill="#a02a3c" opacity="0.45"/><ellipse cx="474.4" cy="40.6" rx="0.95" ry="1.12" fill="#b84a5a" opacity="0.42"/><ellipse cx="466.4" cy="110.4" rx="1.36" ry="0.98" fill="#b03444" opacity="0.47"/><ellipse cx="452.8" cy="33.2" rx="1.37" ry="1.41" fill="#b03444" opacity="0.34"/><ellipse cx="467.9" cy="86.6" rx="1.06" ry="1.13" fill="#a02a3c" opacity="0.60"/><ellipse cx="462.1" cy="62.7" rx="1.35" ry="1.51" fill="#a02a3c" opacity="0.30"/><ellipse cx="509.8" cy="79.4" rx="2.20" ry="1.84" fill="#b03444" opacity="0.36"/><ellipse cx="499.5" cy="83.3" rx="0.94" ry="0.71" fill="#a02a3c" opacity="0.36"/><ellipse cx="492.5" cy="58.3" rx="1.21" ry="0.88" fill="#b03444" opacity="0.32"/><ellipse cx="457.7" cy="81.8" rx="0.98" ry="0.67" fill="#98243a" opacity="0.55"/><ellipse cx="459.2" cy="82.2" rx="1.24" ry="0.93" fill="#a02a3c" opacity="0.55"/><ellipse cx="496.8" cy="79.7" rx="1.21" ry="1.44" fill="#a02a3c" opacity="0.58"/><ellipse cx="482.2" cy="81.3" rx="0.90" ry="0.65" fill="#a02a3c" opacity="0.58"/><ellipse cx="427.4" cy="53.5" rx="1.42" ry="1.10" fill="#b03444" opacity="0.31"/><ellipse cx="433.9" cy="43.1" rx="1.43" ry="1.45" fill="#b84a5a" opacity="0.50"/><ellipse cx="504.3" cy="88.1" rx="2.15" ry="1.39" fill="#b03444" opacity="0.48"/><ellipse cx="431.8" cy="56.9" rx="0.99" ry="0.92" fill="#b03444" opacity="0.32"/><ellipse cx="489.4" cy="88.3" rx="1.91" ry="1.93" fill="#b84a5a" opacity="0.41"/><ellipse cx="461.9" cy="95.2" rx="2.01" ry="1.67" fill="#b03444" opacity="0.49"/><ellipse cx="488.6" cy="63.1" rx="1.83" ry="2.02" fill="#98243a" opacity="0.43"/><ellipse cx="467.4" cy="50.4" rx="1.78" ry="1.77" fill="#98243a" opacity="0.53"/><ellipse cx="467.8" cy="103.7" rx="1.32" ry="0.95" fill="#a02a3c" opacity="0.50"/><ellipse cx="482.8" cy="67.4" rx="2.05" ry="1.54" fill="#b84a5a" opacity="0.42"/><ellipse cx="480.5" cy="96.3" rx="1.86" ry="1.54" fill="#a02a3c" opacity="0.56"/><ellipse cx="449.8" cy="45.5" rx="1.43" ry="1.57" fill="#b84a5a" opacity="0.58"/></g>
<g><ellipse cx="479.6" cy="91.3" rx="0.87" ry="1.69" transform="rotate(35 479.6 91.3)" fill="#f4e0e6" opacity="0.87"/><ellipse cx="507.1" cy="83.9" rx="0.46" ry="1.36" transform="rotate(48 507.1 83.9)" fill="#f4e0e6" opacity="0.60"/><ellipse cx="450.0" cy="105.3" rx="0.48" ry="1.76" transform="rotate(32 450.0 105.3)" fill="#f4e0e6" opacity="0.56"/><ellipse cx="444.0" cy="49.2" rx="0.84" ry="1.15" transform="rotate(58 444.0 49.2)" fill="#f4e0e6" opacity="0.88"/><ellipse cx="457.1" cy="45.3" rx="0.43" ry="1.16" transform="rotate(-43 457.1 45.3)" fill="#f4e0e6" opacity="0.74"/><ellipse cx="455.1" cy="56.8" rx="0.64" ry="1.18" transform="rotate(38 455.1 56.8)" fill="#f4e0e6" opacity="0.69"/><ellipse cx="490.5" cy="99.6" rx="0.79" ry="1.24" transform="rotate(-58 490.5 99.6)" fill="#f4e0e6" opacity="0.73"/><ellipse cx="455.6" cy="60.4" rx="0.79" ry="0.93" transform="rotate(3 455.6 60.4)" fill="#f4e0e6" opacity="0.80"/><ellipse cx="494.6" cy="100.8" rx="0.87" ry="0.91" transform="rotate(-56 494.6 100.8)" fill="#f4e0e6" opacity="0.64"/></g>
<g filter="url(#bl1)" fill="#f4e4e8" opacity="0.9"><path d="M445,55 L450,53 L451,55 L448,62 L446,61 Z"/><ellipse cx="460" cy="55" rx="1.8" ry="0.8" opacity="0.6"/><path d="M453,82 L454.4,82 L453.2,91 L452,90.5 Z"/><ellipse cx="492" cy="72" rx="1" ry="0.8"/><ellipse cx="486" cy="66" rx="1.2" ry="0.7" opacity="0.6"/><ellipse cx="463" cy="106" rx="0.8" ry="1.4" opacity="0.8"/></g>
</g>
<g clip-path="url(#ph2)">
<linearGradient id="bg2" x1="0" y1="0" x2="0" y2="1"><stop offset="0" stop-color="#e2d2cc"/><stop offset="0.35" stop-color="#ddd6c8"/><stop offset="1" stop-color="#d6d2b8"/></linearGradient>
<rect x="426.3" y="149.8" width="86.4" height="82.3" fill="url(#bg2)"/>
<g filter="url(#bl2)"><ellipse cx="432" cy="154" rx="7" ry="5" fill="#e8a494" opacity="0.85"/><ellipse cx="476" cy="151" rx="12" ry="3.5" fill="#d87c6c" opacity="0.75"/><rect x="498" y="150" width="16" height="30" fill="#d6cccc" opacity="0.8"/></g>
<g filter="url(#bl3)" opacity="0.45"><path d="M440,199 L470,208 L490,232 L513,234 L513,228 L482,214 Z" fill="#7a7060"/></g>
<g filter="url(#bl1)"><path d="M428.0,166.0 C428.4,162.3 429.5,160.2 431.0,158.0 C432.5,155.8 434.5,154.2 437.0,153.0 C439.5,151.8 442.8,151.3 446.0,151.0 C449.2,150.7 453.0,150.7 456.0,151.2 C459.0,151.7 461.7,153.4 464.0,154.0 C466.3,154.6 467.3,155.1 470.0,155.0 C472.7,154.9 476.5,153.5 480.0,153.5 C483.5,153.5 488.0,154.1 491.0,155.0 C494.0,155.9 496.2,157.2 498.0,159.0 C499.8,160.8 500.8,163.5 502.0,166.0 C503.2,168.5 504.0,171.7 505.0,174.0 C506.0,176.3 506.7,178.5 508.0,180.0 C509.3,181.5 512.2,175.3 513.0,183.0 C513.8,190.7 513.7,218.2 513.0,226.0 C512.3,233.8 510.0,228.2 509.0,229.5 C508.0,230.8 509.9,232.8 507.0,233.5 C504.1,234.2 494.8,234.6 491.5,233.5 C488.2,232.4 489.1,229.2 487.5,227.0 C485.9,224.8 483.8,223.0 482.0,220.5 C480.2,218.0 478.7,214.7 476.5,212.0 C474.3,209.3 471.8,205.8 469.0,204.5 C466.2,203.2 463.2,204.6 460.0,204.0 C456.8,203.4 453.3,202.2 450.0,201.0 C446.7,199.8 443.0,198.5 440.0,196.5 C437.0,194.5 433.9,191.8 432.0,189.0 C430.1,186.2 429.2,183.8 428.5,180.0 C427.8,176.2 427.6,169.7 428.0,166.0 Z" fill="#2e0a12"/></g>
<g filter="url(#bl2)"><path d="M431,160 Q440,151 455,151 Q463,152 464,156 Q452,156 440,163 Z" fill="#5c1a1e" opacity="0.75"/><path d="M472,157 Q485,152 495,157 Q500,162 501,166 Q490,158 474,160 Z" fill="#5c1a1e" opacity="0.6"/><path d="M462,154 Q468,165 466,185 Q464,195 468,205" stroke="#160306" stroke-width="3" fill="none" opacity="0.35"/></g>
<g filter="url(#bl3)"><ellipse cx="444" cy="172" rx="11" ry="11" fill="#3a1018" opacity="0.35"/><ellipse cx="486" cy="176" rx="9" ry="9" fill="#3a1018" opacity="0.3"/><ellipse cx="494" cy="215" rx="10" ry="10" fill="#1e0508" opacity="0.45"/></g>
<g filter="url(#bl1)" fill="#f8f0f0"><path d="M442.5,177 L446.5,168.5 L448,169.2 L444.2,177.6 Z"/><path d="M447.5,173 L450.5,166.5 L451.8,167.5 L449,173.5 Z" opacity="0.9"/><path d="M468,181.5 L474.5,178.4 L475,179.6 L468.6,182.6 Z" opacity="0.9"/><path d="M480.5,175 L485.5,184.5 L484,185 L479.4,175.8 Z"/><path d="M479.8,172.5 L484,173 L483.8,174.2 L479.6,173.8 Z" opacity="0.7"/><ellipse cx="469" cy="166" rx="1.4" ry="0.6" opacity="0.6"/><ellipse cx="461" cy="186" rx="1" ry="0.6" opacity="0.5"/></g>
</g>
<rect x="0" y="0" width="520" height="1" fill="#000"/><rect x="0" y="0" width="1" height="265" fill="#000"/><rect x="519" y="0" width="1" height="265" fill="#000"/><rect x="0" y="264" width="520" height="1" fill="#000"/>
</svg></body></html>
